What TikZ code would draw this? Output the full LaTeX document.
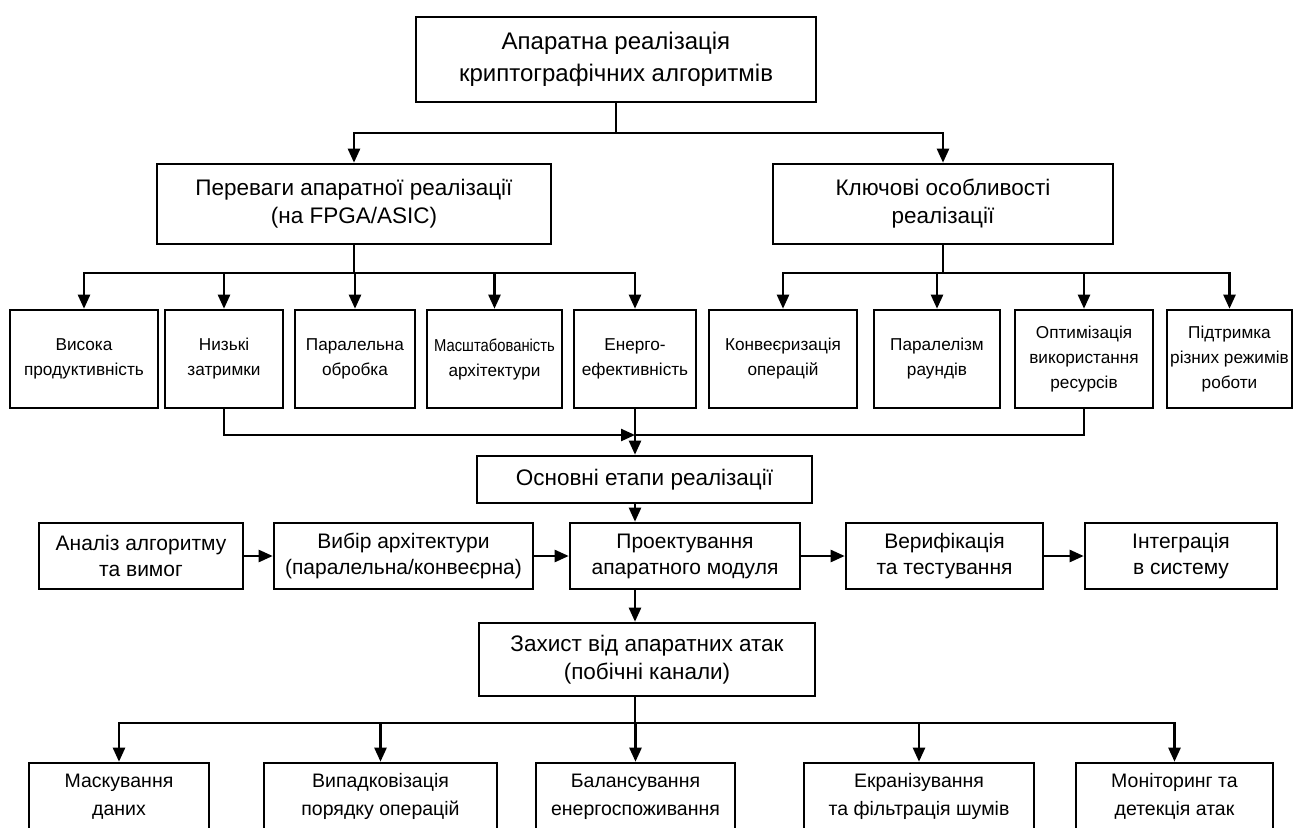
\documentclass[tikz,border=0pt]{standalone}
\usepackage{fontspec}
\setmainfont{Liberation Sans}
\usetikzlibrary{arrows.meta}
\begin{document}
\begin{tikzpicture}[x=1pt,y=-1pt,
  box/.style={draw, line width=2.6pt, align=center, inner sep=0pt, anchor=center},
  arr/.style={line width=2.4pt, -{Triangle[length=14pt,width=12pt]}},
  ln/.style={line width=2.4pt},
  ftop/.style={font=\fontsize{24}{32}\selectfont},
  fsec/.style={font=\fontsize{22.5}{28}\selectfont},
  frow/.style={font=\fontsize{17.2}{25}\selectfont},
  fmid/.style={font=\fontsize{21}{26}\selectfont},
  fbot/.style={font=\fontsize{19.5}{28}\selectfont},
  rowbox/.style={box, frow, minimum height=98pt},
  midbox/.style={box, fmid, minimum height=66pt},
  botbox/.style={box, fbot, minimum height=67pt}]
\fill[white] (0,0) rectangle (1298,827);
\useasboundingbox (0,0) rectangle (1298,827);

% root and the two branches
\node[box, ftop, minimum width=400pt, minimum height=85pt] (top) at (616,59.5)
  {Апаратна реалізація\\криптографічних алгоритмів};
\node[box, fsec, minimum width=394pt, minimum height=80pt] (l2L) at (354,204)
  {Переваги апаратної реалізації\\(на FPGA/ASIC)};
\node[box, fsec, minimum width=340pt, minimum height=80pt] (l2R) at (943,204)
  {Ключові особливості\\реалізації};

% advantages and features
\node[rowbox, minimum width=148pt] (r1) at (84,359) {Висока\\продуктивність};
\node[rowbox, minimum width=118pt] (r2) at (224,359) {Низькі\\затримки};
\node[rowbox, minimum width=120pt] (r3) at (355,359) {Паралельна\\обробка};
\node[rowbox, minimum width=135pt] (r4) at (494.5,359) {\scalebox{0.86}[1]{Масштабованість}\\архітектури};
\node[rowbox, minimum width=122pt] (r5) at (635,359) {Енерго-\\ефективність};
\node[rowbox, minimum width=148pt] (r6) at (783,359) {Конвеєризація\\операцій};
\node[rowbox, minimum width=126pt] (r7) at (937,359) {Паралелізм\\раундів};
\node[rowbox, minimum width=138pt] (r8) at (1084,359) {Оптимізація\\використання\\ресурсів};
\node[rowbox, minimum width=125pt] (r9) at (1229.5,359) {Підтримка\\різних режимів\\роботи};

% implementation stages
\node[box, fsec, minimum width=335pt, minimum height=47pt] (osn) at (644.5,479.5)
  {Основні етапи реалізації};
\node[midbox, minimum width=204pt] (pa) at (141,556) {Аналіз алгоритму\\та вимог};
\node[midbox, minimum width=259pt] (pb) at (403.5,556) {Вибір архітектури\\(паралельна/конвеєрна)};
\node[midbox, minimum width=230pt] (pc) at (685,556) {Проектування\\апаратного модуля};
\node[midbox, minimum width=197pt] (pd) at (944.5,556) {Верифікація\\та тестування};
\node[midbox, minimum width=192pt] (pe) at (1181,556) {Інтеграція\\в систему};

% protection against hardware attacks
\node[box, fsec, minimum width=336pt, minimum height=73pt] (zah) at (647,659.5)
  {Захист від апаратних атак\\(побічні канали)};
\node[botbox, minimum width=180pt] (m1) at (119,796.5) {Маскування\\даних};
\node[botbox, minimum width=233pt] (m2) at (380.5,796.5) {Випадковізація\\порядку операцій};
\node[botbox, minimum width=199pt] (m3) at (635.5,796.5) {Балансування\\енергоспоживання};
\node[botbox, minimum width=230pt] (m4) at (919,796.5) {Екранізування\\та фільтрація шумів};
\node[botbox, minimum width=197pt] (m5) at (1174.5,796.5) {Моніторинг та\\детекція атак};

% junction points
\coordinate (hT) at (616,133);
\coordinate (hL) at (354,273);
\coordinate (hR) at (943,273);
\coordinate (mg) at (635,435);
\coordinate (hB) at (635,723);

% connectors
\draw[ln] (top.south) -- (hT);
\draw[arr] (hT) -| (l2L.north);
\draw[arr] (hT) -| (l2R.north);

\draw[ln] (l2L.south) -- (hL);
\foreach \n in {r1,r2,r3,r4,r5} \draw[arr] (hL) -| (\n.north);
\draw[ln] (l2R.south) -- (hR);
\foreach \n in {r6,r7,r8,r9} \draw[arr] (hR) -| (\n.north);

\draw[arr] (r2.south) |- (mg);
\draw[ln] (r8.south) |- (mg);
\draw[arr] (r5.south) -- (mg |- osn.north);
\draw[arr] (mg |- osn.south) -- (mg |- pc.north);

\draw[arr] (pa) -- (pb);
\draw[arr] (pb) -- (pc);
\draw[arr] (pc) -- (pd);
\draw[arr] (pd) -- (pe);

\draw[arr] (mg |- pc.south) -- (mg |- zah.north);
\draw[ln] (mg |- zah.south) -- (hB);
\foreach \n in {m1,m2,m3,m4,m5} \draw[arr] (hB) -| (\n.north);
\end{tikzpicture}
\end{document}
